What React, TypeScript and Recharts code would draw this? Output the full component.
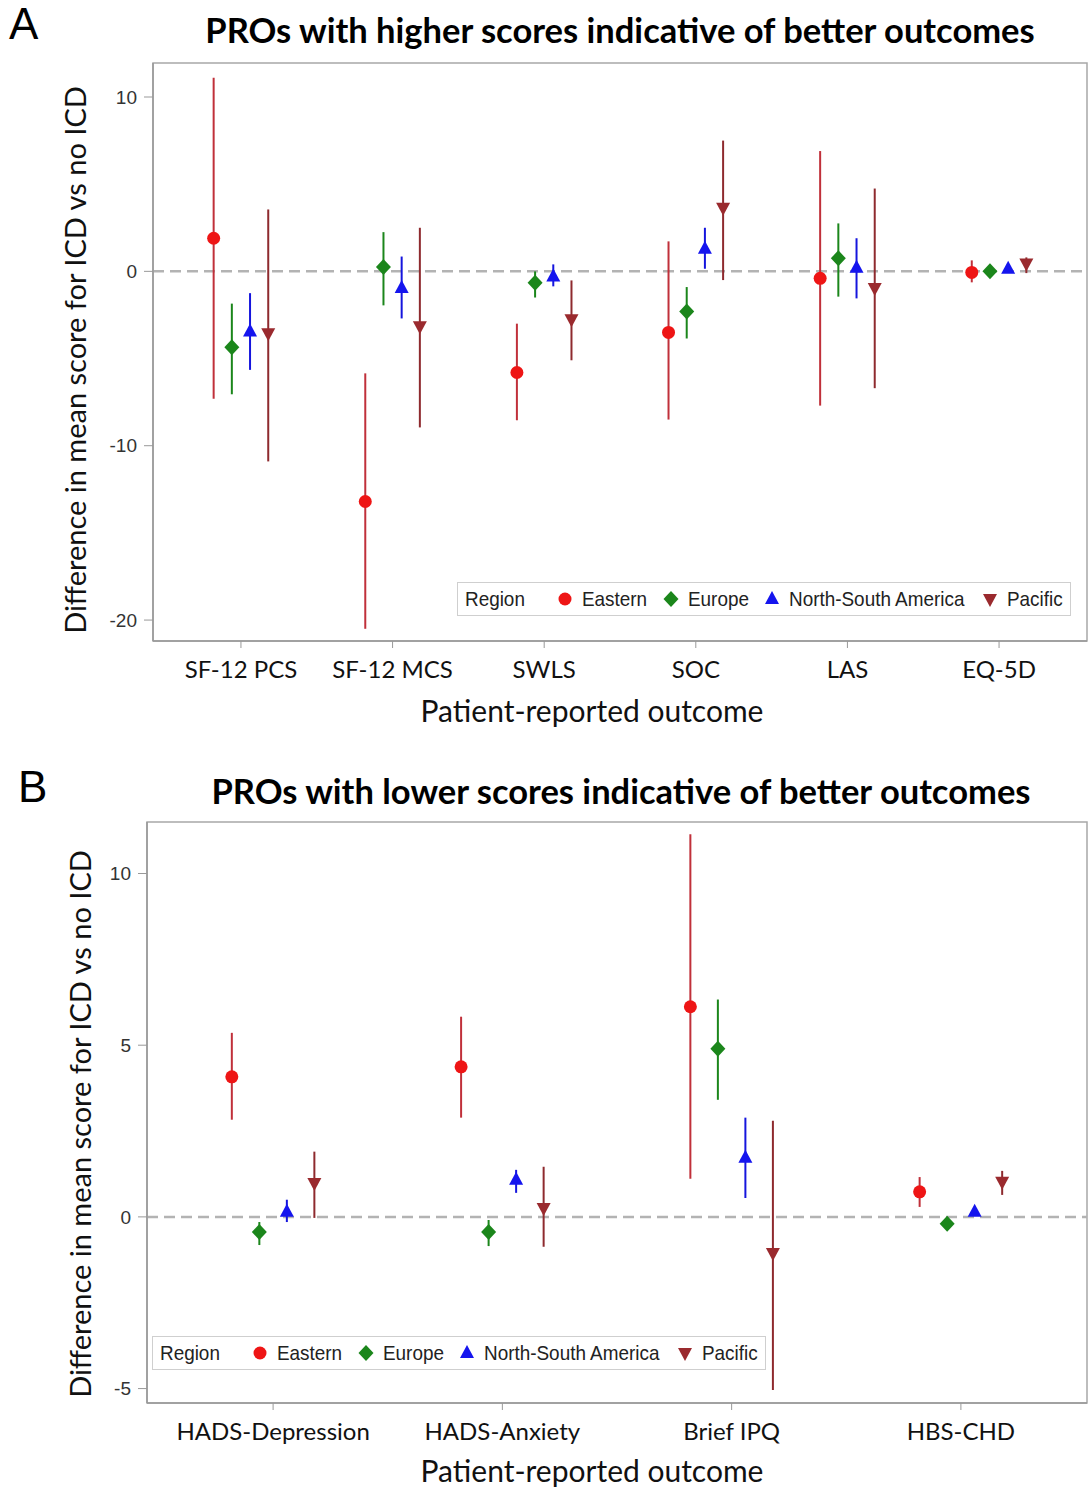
import React from 'react';
import { ComposedChart, Scatter, XAxis, YAxis, ErrorBar, ReferenceLine, ReferenceArea } from 'recharts';

// ---------- Panel A data ----------
const categoriesA = ['SF-12 PCS', 'SF-12 MCS', 'SWLS', 'SOC', 'LAS', 'EQ-5D'];
const easternA = [1.9, -13.2, -5.8, -3.5, -0.4, -0.06];
const easternALow = [-7.3, -20.5, -8.54, -8.5, -7.7, -0.63];
const easternAHigh = [11.1, -5.85, -3.0, 1.72, 6.9, 0.63];
const europeA = [-4.35, 0.25, -0.65, -2.3, 0.75, 0.0];
const europeALow = [-7.05, -1.95, -1.5, -3.85, -1.45, -0.35];
const europeAHigh = [-1.85, 2.25, 0.0, -0.9, 2.75, 0.35];
const nsaA = [-3.45, -0.95, -0.3, 1.3, 0.2, 0.15];
const nsaALow = [-5.65, -2.7, -0.86, 0.15, -1.55, 0.1];
const nsaAHigh = [-1.25, 0.85, 0.4, 2.5, 1.9, 0.2];
const pacificA = [-3.55, -3.15, -2.75, 3.65, -0.95, 0.45];
const pacificALow = [-10.9, -8.95, -5.1, -0.5, -6.7, -0.1];
const pacificAHigh = [3.55, 2.5, -0.52, 7.5, 4.75, 0.8];
const yTicksA = [-20, -10, 0, 10];

// ---------- Panel B data ----------
const categoriesB = ['HADS-Depression', 'HADS-Anxiety', 'Brief IPQ', 'HBS-CHD'];
const easternB = [4.08, 4.37, 6.12, 0.73];
const easternBLow = [2.83, 2.89, 1.11, 0.29];
const easternBHigh = [5.36, 5.83, 11.14, 1.16];
const europeB = [-0.44, -0.44, 4.9, -0.2];
const europeBLow = [-0.82, -0.85, 3.41, -0.38];
const europeBHigh = [-0.15, -0.09, 6.33, 0.0];
const nsaB = [0.15, 1.08, 1.72, 0.15];
const nsaBLow = [-0.15, 0.7, 0.55, 0.1];
const nsaBHigh = [0.5, 1.37, 2.89, 0.2];
const pacificB = [0.99, 0.26, -1.05, 1.02];
const pacificBLow = [-0.03, -0.87, -5.04, 0.64];
const pacificBHigh = [1.9, 1.46, 2.8, 1.34];
const yTicksB = [-5, 0, 5, 10];

const regions = ['Eastern', 'Europe', 'North-South America', 'Pacific'];
const offsets = [-0.18, -0.06, 0.06, 0.18];

const markerColors = ['#ee1515', '#1b861b', '#1515ee', '#9a2a2e'];
const lineColors = ['#c0303a', '#1b861b', '#1515dd', '#8e2a2e'];

const CAL = "Lato, 'Open Sans', sans-serif";
const ARIAL = "'Liberation Sans', Arial, sans-serif";

function build(vals: number[], low: number[], high: number[], off: number) {
  return vals.map((v, i) => ({ x: i + 1 + off, y: v, err: [v - low[i], high[i] - v] }));
}

function Marker({ kind, cx, cy, color }: any) {
  if (cx == null || cy == null) return null;
  if (kind === 0) return <circle cx={cx} cy={cy} r={6.5} fill={color} />;
  if (kind === 1)
    return <polygon points={`${cx},${cy - 8} ${cx + 7.5},${cy} ${cx},${cy + 8} ${cx - 7.5},${cy}`} fill={color} />;
  if (kind === 2)
    return <polygon points={`${cx},${cy - 8} ${cx + 7},${cy + 5} ${cx - 7},${cy + 5}`} fill={color} />;
  return <polygon points={`${cx - 7},${cy - 5} ${cx + 7},${cy - 5} ${cx},${cy + 8}`} fill={color} />;
}

function LegendIcon({ kind }: { kind: number }) {
  return (
    <svg width={16} height={16} style={{ display: 'block' }}>
      <Marker kind={kind} cx={8} cy={8} color={markerColors[kind]} />
    </svg>
  );
}

const iconPos = [107, 213, 314, 532];

function Legend({ left, top }: { left: number; top: number }) {
  const narrow: React.CSSProperties = {
    position: 'absolute', top: 3, lineHeight: '26px', whiteSpace: 'nowrap',
    transform: 'scaleX(0.9)', transformOrigin: 'left center',
  };
  return (
    <div
      style={{
        position: 'absolute', left, top, width: 614, height: 34,
        border: '1.5px solid #cfcfcf', background: '#fff', boxSizing: 'border-box',
        fontFamily: ARIAL, fontSize: 21, color: '#222',
      }}
    >
      <span style={{ ...narrow, left: 7 }}>Region</span>
      {regions.map((r, k) => (
        <React.Fragment key={r}>
          <div style={{ position: 'absolute', left: iconPos[k] - 8, top: 8 }}>
            <LegendIcon kind={k} />
          </div>
          <span style={{ ...narrow, left: iconPos[k] + 17 }}>{r}</span>
        </React.Fragment>
      ))}
    </div>
  );
}

type PanelProps = {
  top: number; height: number; marginTop: number; yAxisWidth: number; xAxisHeight: number;
  categories: string[]; yDomain: [number, number]; xDomain: [number, number]; yTicks: number[];
  series: { vals: number[]; low: number[]; high: number[] }[];
};

function Panel(p: PanelProps) {
  const xTicks = p.categories.map((_, i) => i + 1);
  return (
    <div style={{ position: 'absolute', left: 0, top: p.top }}>
      <ComposedChart
        width={1088}
        height={p.height}
        margin={{ top: p.marginTop, right: 1, bottom: 0, left: 0 }}
      >
        <XAxis
          type="number" dataKey="x" domain={p.xDomain} ticks={xTicks} allowDataOverflow
          height={p.xAxisHeight}
          tickFormatter={(v: number) => p.categories[Math.round(v) - 1] ?? ''}
          tick={{ fontFamily: CAL, fontSize: 24, fill: '#111' }}
          tickSize={7} tickMargin={13}
          stroke="#999" axisLine={{ stroke: '#999', strokeWidth: 1.5 }} tickLine={{ stroke: '#999' }}
        />
        <YAxis
          type="number" dataKey="y" domain={p.yDomain} ticks={p.yTicks} allowDataOverflow
          width={p.yAxisWidth}
          tick={{ fontFamily: ARIAL, fontSize: 19, fill: '#333' }}
          tickSize={9} tickMargin={7}
          axisLine={{ stroke: '#999', strokeWidth: 1.5 }} tickLine={{ stroke: '#999' }}
        />
        <ReferenceArea
          x1={p.xDomain[0]} x2={p.xDomain[1]} y1={p.yDomain[0]} y2={p.yDomain[1]}
          fill="none" stroke="#a8a8a8" strokeWidth={1.5} ifOverflow="visible"
        />
        <ReferenceLine y={0} stroke="#b3b3b3" strokeWidth={2.5} strokeDasharray="11 6" />
        {p.series.map((s, k) => (
          <Scatter
            key={k}
            name={regions[k]}
            data={build(s.vals, s.low, s.high, offsets[k])}
            isAnimationActive={false}
            shape={(props: any) => <Marker kind={k} cx={props.cx} cy={props.cy} color={markerColors[k]} />}
          >
            <ErrorBar dataKey="err" direction="y" width={0} stroke={lineColors[k]} strokeWidth={2} />
          </Scatter>
        ))}
      </ComposedChart>
    </div>
  );
}

const textStyle = (extra: React.CSSProperties): React.CSSProperties => ({
  position: 'absolute', whiteSpace: 'nowrap', color: '#000', ...extra,
});

export default function App() {
  return (
    <div style={{ position: 'absolute', left: 0, top: 0, width: 1088, height: 1488, background: '#fff', overflow: 'hidden' }}>
      <Panel
        top={0} height={740} marginTop={63} yAxisWidth={153} xAxisHeight={99}
        categories={categoriesA} yDomain={[-21.2, 11.95]} xDomain={[0.42, 6.58]} yTicks={yTicksA}
        series={[
          { vals: easternA, low: easternALow, high: easternAHigh },
          { vals: europeA, low: europeALow, high: europeAHigh },
          { vals: nsaA, low: nsaALow, high: nsaAHigh },
          { vals: pacificA, low: pacificALow, high: pacificAHigh },
        ]}
      />
      <Panel
        top={740} height={748} marginTop={82} yAxisWidth={147} xAxisHeight={85}
        categories={categoriesB} yDomain={[-5.42, 11.5]} xDomain={[0.45, 4.55]} yTicks={yTicksB}
        series={[
          { vals: easternB, low: easternBLow, high: easternBHigh },
          { vals: europeB, low: europeBLow, high: europeBHigh },
          { vals: nsaB, low: nsaBLow, high: nsaBHigh },
          { vals: pacificB, low: pacificBLow, high: pacificBHigh },
        ]}
      />

      {/* Panel letters */}
      <div style={textStyle({ left: 9, top: 1, fontFamily: ARIAL, fontSize: 44, lineHeight: '46px' })}>A</div>
      <div style={textStyle({ left: 18, top: 764, fontFamily: ARIAL, fontSize: 44, lineHeight: '46px' })}>B</div>

      {/* Titles */}
      <div style={textStyle({ left: 620, top: 30, transform: 'translate(-50%, -50%)', fontFamily: CAL, fontWeight: 700, fontSize: 34.5, lineHeight: '42px' })}>
        PROs with higher scores indicative of better outcomes
      </div>
      <div style={textStyle({ left: 621, top: 791, transform: 'translate(-50%, -50%)', fontFamily: CAL, fontWeight: 700, fontSize: 34.5, lineHeight: '42px' })}>
        PROs with lower scores indicative of better outcomes
      </div>

      {/* Y axis labels */}
      <div style={textStyle({ left: 75, top: 360, transform: 'translate(-50%, -50%) rotate(-90deg)', fontFamily: CAL, fontSize: 29, lineHeight: '34px', color: '#111' })}>
        Difference in mean score for ICD vs no ICD
      </div>
      <div style={textStyle({ left: 80, top: 1124, transform: 'translate(-50%, -50%) rotate(-90deg)', fontFamily: CAL, fontSize: 29, lineHeight: '34px', color: '#111' })}>
        Difference in mean score for ICD vs no ICD
      </div>

      {/* X axis labels */}
      <div style={textStyle({ left: 592, top: 710, transform: 'translate(-50%, -50%)', fontFamily: CAL, fontSize: 30, lineHeight: '36px', color: '#111' })}>
        Patient-reported outcome
      </div>
      <div style={textStyle({ left: 592, top: 1470, transform: 'translate(-50%, -50%)', fontFamily: CAL, fontSize: 30, lineHeight: '36px', color: '#111' })}>
        Patient-reported outcome
      </div>

      <Legend left={457} top={582} />
      <Legend left={152} top={1336} />
    </div>
  );
}
